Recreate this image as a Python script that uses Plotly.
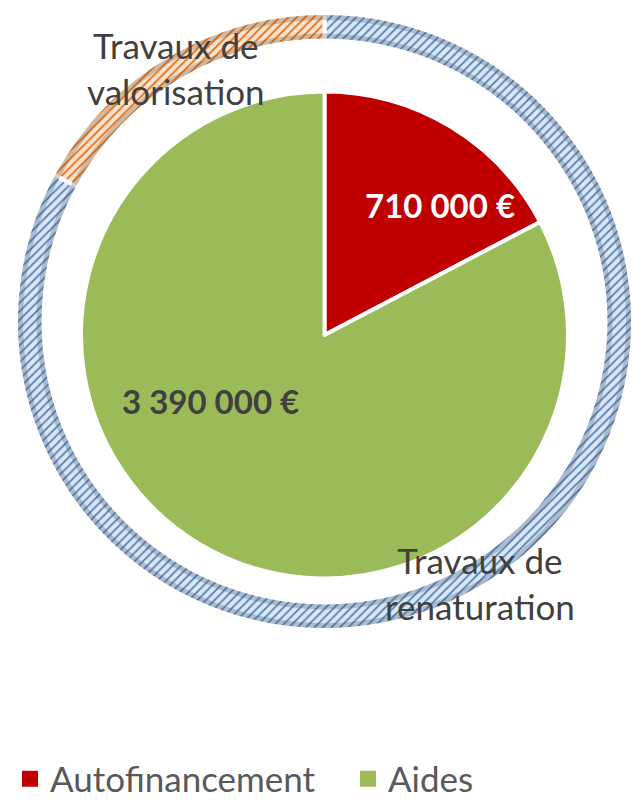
import plotly.graph_objects as go

# Financing split (inner pie)
fin_labels = ["Autofinancement", "Aides"]
fin_values = [710000, 3390000]
fin_colors = ["#C00000", "#9BBB59"]
fin_text_colors = ["#FFFFFF", "#404040"]

# Works split (outer hatched ring)
works_labels = ["Travaux de renaturation", "Travaux de valorisation"]
works_values = [3400000, 700000]
works_fg = ["#4A7EBB", "#E46C0A"]
works_bg = ["#DCE6F2", "#F8E2D2"]
works_shade = ["rgba(70,90,115,0.30)", "rgba(120,85,55,0.30)"]

W, H = 633, 800
FONT = "Lato, Open Sans, sans-serif"


def domain(cx, cy, r):
    """Pixel circle -> paper-fraction domain."""
    return dict(
        x=[max(0.0, (cx - r) / W), min(1.0, (cx + r) / W)],
        y=[max(0.0, 1 - (cy + r) / H), min(1.0, 1 - (cy - r) / H)],
    )


def euro(v):
    return f"{v:,}".replace(",", " ") + " €"


RING_C = (324.5, 321.5)
RING_R = 308.5
RING_HOLE_R = 281.0
PIE_C = (324.5, 335.0)
PIE_R = 243.5

fig = go.Figure()

# Outer ring
fig.add_trace(go.Pie(
    labels=works_labels,
    values=works_values,
    sort=False,
    direction="clockwise",
    rotation=0,
    hole=RING_HOLE_R / RING_R,
    domain=domain(*RING_C, RING_R),
    textinfo="none",
    showlegend=False,
    marker=dict(
        colors=works_bg,
        line=dict(color="white", width=4),
        pattern=dict(shape="/", fgcolor=works_fg, bgcolor=works_bg,
                     size=6, solidity=0.28),
    ),
))

# Soft shading along both edges of the ring
for r_out, r_in in [(RING_R - 2, RING_R - 7), (RING_HOLE_R + 7, RING_HOLE_R + 2)]:
    fig.add_trace(go.Pie(
        labels=works_labels,
        values=works_values,
        sort=False,
        direction="clockwise",
        rotation=0,
        hole=r_in / r_out,
        domain=domain(*RING_C, r_out),
        textinfo="none",
        showlegend=False,
        hoverinfo="skip",
        marker=dict(colors=works_shade, line=dict(width=0)),
    ))

# Inner pie
fig.add_trace(go.Pie(
    labels=fin_labels,
    values=fin_values,
    sort=False,
    direction="clockwise",
    rotation=0,
    domain=domain(*PIE_C, PIE_R),
    textinfo="none",
    showlegend=False,
    marker=dict(colors=fin_colors, line=dict(color="white", width=4)),
))

# Legend entries with square swatches (one legend box per entry)
for name, col, leg in zip(fin_labels, fin_colors, ["legend", "legend2"]):
    fig.add_trace(go.Scatter(
        x=[None], y=[None], mode="markers", name=name, legend=leg,
        marker=dict(symbol="square", size=16, color=col),
        hoverinfo="skip",
    ))

annotations = []
# Value labels on the inner pie
for (lx, ly), v, col in zip([(440, 205), (210, 401)], fin_values, fin_text_colors):
    annotations.append(dict(
        x=lx / W, y=1 - ly / H, xref="paper", yref="paper",
        text=f"<b>{euro(v)}</b>", showarrow=False,
        font=dict(family=FONT, size=33, color=col),
        xanchor="center", yanchor="middle",
    ))
# Category labels on the ring
for (lx, ly), name in zip([(480, 583), (176, 68)], works_labels):
    annotations.append(dict(
        x=lx / W, y=1 - ly / H, xref="paper", yref="paper",
        text=name.replace("Travaux de ", "Travaux de<br>"), showarrow=False,
        font=dict(family=FONT, size=35, color="#404040"),
        xanchor="center", yanchor="middle",
    ))

legend_style = dict(
    orientation="h", yanchor="middle", xanchor="left",
    font=dict(family=FONT, size=35, color="#595959"),
    bgcolor="rgba(0,0,0,0)",
)

fig.update_layout(
    width=W, height=H,
    margin=dict(l=0, r=0, t=0, b=0, autoexpand=False),
    paper_bgcolor="white",
    plot_bgcolor="white",
    xaxis=dict(visible=False),
    yaxis=dict(visible=False),
    annotations=annotations,
    legend=dict(legend_style, x=10 / W, y=1 - 779 / H),
    legend2=dict(legend_style, x=348 / W, y=1 - 779 / H),
)

fig.write_html("out.html")
